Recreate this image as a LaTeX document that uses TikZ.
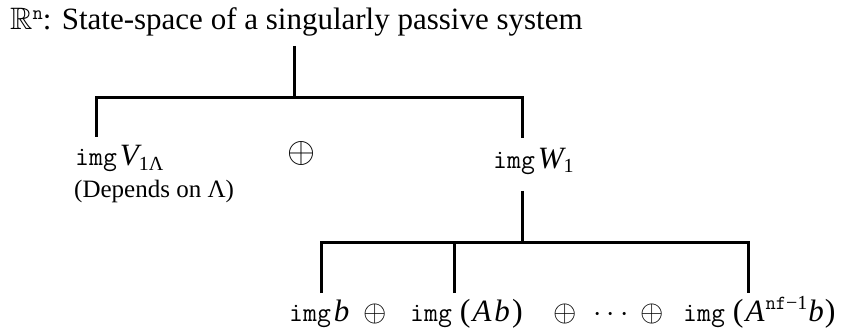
\documentclass[tikz,border=0pt]{standalone}
\usepackage{amssymb}
\DeclareFontFamily{U}{msb}{}
\DeclareFontShape{U}{msb}{m}{n}{<->msbm10}{}
\DeclareFontShape{OMS}{cmsy}{m}{n}{<->cmsy10}{}
\DeclareFontShape{OT1}{cmr}{m}{n}{<->cmr10}{}
\usepackage{fontspec}
\setmainfont{Liberation Serif}
\newcommand\mvar[1]{{\fontsize{31}{32}\selectfont\itshape #1}}
\newcommand\mpar[1]{{\fontsize{32}{32}\selectfont #1}}
\begin{document}
\begin{tikzpicture}[x=1pt,y=-1pt,
  ttl/.style={inner sep=0pt, anchor=base west, font=\fontsize{31}{36}\selectfont},
  lbl/.style={inner sep=0pt, anchor=base west, font=\fontsize{27}{32}\selectfont},
  note/.style={inner sep=0pt, anchor=base west, font=\fontsize{25}{30}\selectfont},
  opbig/.style={inner sep=0pt, anchor=center, font=\fontsize{36}{40}\selectfont},
  opsm/.style={inner sep=0pt, anchor=base, font=\fontsize{30}{32}\selectfont},
  edge/.style={line width=3pt}]
\useasboundingbox (0,0) rectangle (844,334);
% title
\node[ttl] (title) at (10,30) {$\mathbb{R}$\raisebox{10pt}{\fontsize{20}{22}\selectfont\ttfamily n}: State-space of a singularly passive system};
% level 1
\node[lbl] (V) at (75,166) {\texttt{img}\hspace{3pt}\mvar{V}{\fontsize{20}{22}\selectfont\raisebox{-5pt}{1Λ}}};
\node[note] (dep) at (74,198) {(Depends on Λ)};
\node[opbig] (op) at (301,154) {$\oplus$};
\node[lbl] (W) at (493,168) {\texttt{img}\hspace{3pt}\mvar{W}{\fontsize{20}{22}\selectfont\raisebox{-5pt}{1}}};
% level 2
\node[lbl] (b1) at (289,321) {\texttt{img}\hspace{3pt}\mvar{b}};
\node[opsm] (o1) at (375,321) {$\oplus$};
\node[lbl] (b2) at (410,321) {\texttt{img}\hspace{8pt}\mpar{(}\hspace{2pt}\mvar{A}\hspace{3pt}\mvar{b}\hspace{2pt}\mpar{)}};
\node[opsm] (o2) at (565,321) {$\oplus$};
\node[opsm] (dots) at (611,321) {$\cdots$};
\node[opsm] (o3) at (652,321) {$\oplus$};
\node[lbl] (b4) at (683,321) {\texttt{img}\hspace{8pt}\mpar{(}\hspace{2pt}\mvar{A}\hspace{1pt}\raisebox{12pt}{\fontsize{20}{22}\selectfont\texttt{nf}−1}\hspace{1pt}\mvar{b}\hspace{1pt}\mpar{)}};
% tree connectors
\coordinate (top) at (294,46);
\coordinate (j1) at (294,98);
\coordinate (dV) at (96,137);
\coordinate (dW) at (522,138);
\coordinate (j2top) at (522,191);
\coordinate (j2) at (522,242);
\coordinate (j3) at (454,242);
\coordinate (d1) at (321,293);
\coordinate (d2) at (454,293);
\coordinate (d3) at (748,293);
\draw[edge] (top) -- (j1);
\draw[edge] (dV) |- (j1) -| (dW);
\draw[edge] (j2top) -- (j2);
\draw[edge] (d1) |- (j2) -| (d3);
\draw[edge] (d2) -- (j3);
\end{tikzpicture}
\end{document}
